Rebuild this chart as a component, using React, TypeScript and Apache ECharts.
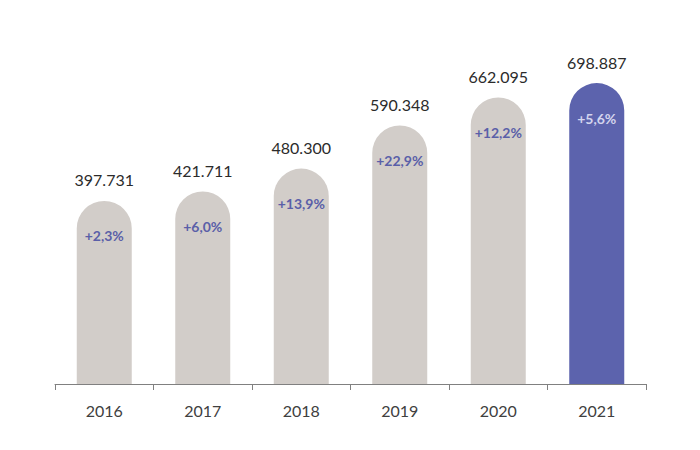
import React, { useEffect, useRef } from "react";
import * as echarts from "echarts";

const years = ["2016", "2017", "2018", "2019", "2020", "2021"];
const values = [397731, 421711, 480300, 590348, 662095, 698887];
const growth = ["+2,3%", "+6,0%", "+13,9%", "+22,9%", "+12,2%", "+5,6%"];
const highlightIndex = 5;

const FONT = "Lato, 'Open Sans', sans-serif";
const GRAY = "#d2cdc9";
const BLUE = "#5c63ad";

function fmt(v: number): string {
  return String(v).replace(/\B(?=(\d{3})+(?!\d))/g, ".");
}

export default function App() {
  const ref = useRef<HTMLDivElement>(null);
  useEffect(() => {
    document.body.style.margin = "0";
    if (!ref.current) return;
    const chart = echarts.init(ref.current, undefined, { renderer: "svg" });
    chart.setOption({
      animation: false,
      backgroundColor: "#ffffff",
      grid: { left: 55, right: 54, top: 71, bottom: 66 },
      xAxis: {
        type: "category",
        data: years,
        axisLine: { lineStyle: { color: "#808080", width: 1 } },
        axisTick: { show: true, length: 6, lineStyle: { color: "#808080" } },
        axisLabel: { color: "#404040", fontSize: 16, fontFamily: FONT, margin: 18 },
      },
      yAxis: {
        type: "value",
        min: 0,
        max: 800000,
        show: false,
        splitLine: { show: false },
      },
      series: [
        {
          type: "custom",
          data: values.map((v, i) => [i, v]),
          encode: { x: 0, y: 1 },
          renderItem: (params: any, api: any) => {
            const idx = api.value(0);
            const v = api.value(1);
            const base = api.coord([idx, 0]);
            const top = api.coord([idx, v]);
            const w = 55;
            const r = w / 2;
            const capTop = top[1] - r;
            const hi = idx === highlightIndex;
            return {
              type: "group",
              children: [
                {
                  type: "rect",
                  shape: {
                    x: base[0] - w / 2,
                    y: capTop,
                    width: w,
                    height: base[1] - capTop,
                    r: [r, r, 0, 0],
                  },
                  style: { fill: hi ? BLUE : GRAY },
                },
                {
                  type: "text",
                  x: base[0],
                  y: capTop - 21,
                  style: {
                    text: fmt(values[idx]),
                    fill: "#2b2b2b",
                    font: `16px ${FONT}`,
                    textAlign: "center",
                    verticalAlign: "middle",
                  },
                },
                {
                  type: "text",
                  x: base[0],
                  y: capTop + 35,
                  style: {
                    text: growth[idx],
                    fill: hi ? "#d4d5ee" : "#5a5fa8",
                    font: `bold 14px ${FONT}`,
                    textAlign: "center",
                    verticalAlign: "middle",
                  },
                },
              ],
            };
          },
        },
      ],
    });
    return () => chart.dispose();
  }, []);
  return <div ref={ref} style={{ width: 700, height: 450 }} />;
}
